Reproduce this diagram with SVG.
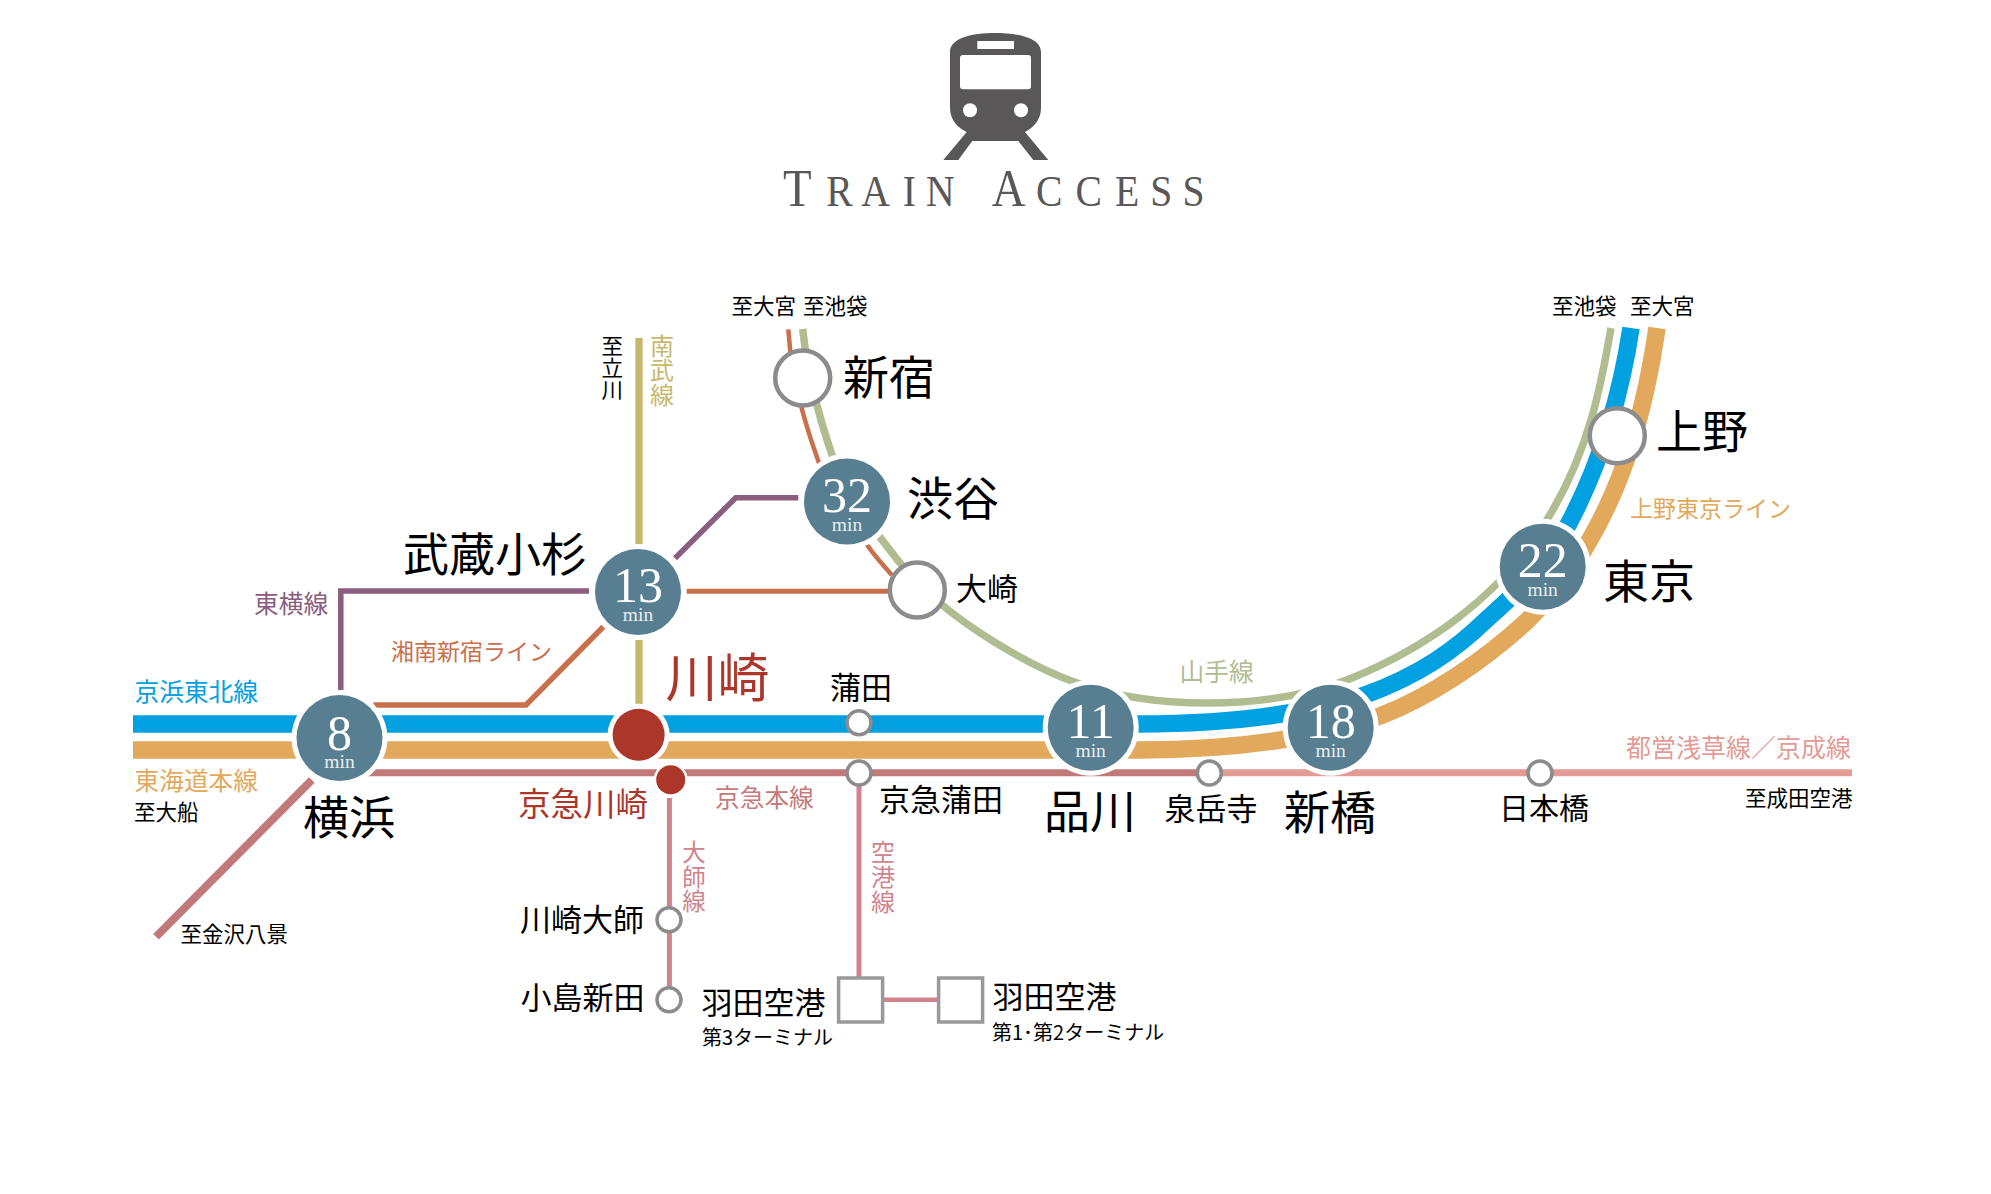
<svg xmlns="http://www.w3.org/2000/svg" width="1991" height="1194" viewBox="0 0 1991 1194">
<defs><style>
text{font-family:"Noto Sans CJK JP","Liberation Sans",sans-serif}
.n{fill:#000;text-anchor:middle}
.big{font-size:46px}
.mid{font-size:31px}
.to{font-size:21.500px;fill:#000}
.lb{font-size:24.700px}
.num{font-family:"Liberation Serif",serif;font-size:50px;fill:#fff;text-anchor:middle}
.min{font-family:"Liberation Serif",serif;font-size:19.500px;fill:#e8eef1;text-anchor:middle}
.halo{fill:#fff}
.time{fill:#587f91}
.open{fill:#fff;stroke:#8c8c8c;stroke-width:4.500}
.small{fill:#fff;stroke:#8c8c8c;stroke-width:3.500}
.sq{fill:#fff;stroke:#999;stroke-width:3.500}
.l{fill:none}
</style></defs>
<rect width="1991" height="1194" fill="#fff"/>
<g id="title">
<path fill="#595757" d="M950 52C950 38 972 33 995 33C1018 33 1041 38 1041 52V108C1041 120 1033 128 1025 132L1048.300 160H1033.300L1018.300 141H972.300L958.300 160H943.300L966.700 132C958 128 950 120 950 108Z"/>
<rect x="977.300" y="41" width="36.700" height="8" fill="#fff"/>
<rect x="960" y="55" width="71" height="34.300" rx="3" fill="#fff"/>
<circle cx="970" cy="110.300" r="7" fill="#fff"/>
<circle cx="1021" cy="110.300" r="7" fill="#fff"/>
<text y="206.500" fill="#595757" transform="translate(783 0) scale(.9 1)" style="font-family:'Liberation Serif',serif"><tspan x="0" font-size="52">T</tspan><tspan x="48" font-size="44">R</tspan><tspan x="87" font-size="44">A</tspan><tspan x="133" font-size="44">I</tspan><tspan x="159" font-size="44">N</tspan><tspan x="232" font-size="52">A</tspan><tspan x="281" font-size="44">C</tspan><tspan x="325" font-size="44">C</tspan><tspan x="369" font-size="44">E</tspan><tspan x="408" font-size="44">S</tspan><tspan x="444" font-size="44">S</tspan></text>
</g>
<g id="connectors" class="l">
<path id="nambu" d="M639 338V704" stroke="#c8b76d" stroke-width="7.300"/>
<path id="toyoko1" d="M340.800 690V591H589" stroke="#8b5d7e" stroke-width="5.500"/>
<path id="toyoko2" d="M675 558.300L735.700 497.700H798.300" stroke="#8b5d7e" stroke-width="5.500"/>
<path id="shonan1" d="M373.400 705H526L603.300 626.700" stroke="#c96f4b" stroke-width="5.500"/>
<path id="shonan2" d="M686.700 591.300H888.300" stroke="#c96f4b" stroke-width="5"/>
<path id="shonan3" d="M788.300 329.300C790 355 795 385 801.700 408.300C807 428 813 446 818.300 461C830 495 850 522 868.300 546.700C877 559 885 567 891.700 575" stroke="#c96f4b" stroke-width="4.500"/>
<path id="yamanote" d="M802.700 329C806 360 815 405 832 455C850 500 870 525 900 563C950 625 1040 670 1077 683C1120 698 1165 703 1207 703C1260 703 1310 695 1352 678C1420 650 1500 600 1548 518C1590 450 1602 380 1611 328" stroke="#b0bd91" stroke-width="7.500"/>
<path id="keihin" d="M133 724H1140C1230 724 1305 714 1365 695C1420 675 1455 650 1486 620C1520 590 1550 560 1568 525C1600 465 1620 400 1631 328" stroke="#00a0e1" stroke-width="17.500"/>
<path id="tokaido" d="M133 750H1140C1230 750 1310 740 1380 716C1430 697 1485 660 1528 620C1550 598 1570 575 1588 543C1625 480 1645 410 1657 328" stroke="#e2a95c" stroke-width="17.500"/>
<path id="keikyu" d="M341 772.700H1209" stroke="#c17a79" stroke-width="7"/>
<path id="asakusa" d="M1209 772.700H1852" stroke="#e39b95" stroke-width="7"/>
<path id="hakkei" d="M311.800 780L156 936.700" stroke="#c17a79" stroke-width="8"/>
<path id="daishi" d="M669.400 798V1000" stroke="#d0838c" stroke-width="5"/>
<path id="airport" d="M859 773V978" stroke="#d0838c" stroke-width="5"/>
<path id="haneda-link" d="M882 999.700H939" stroke="#d0838c" stroke-width="4.500"/>
</g>
<g id="yokohama"><circle class="halo" cx="339.500" cy="738" r="48"/><circle class="time" cx="339.500" cy="738" r="43"/><text class="num" x="339.500" y="750">8</text><text class="min" x="339.500" y="768">min</text><text class="n big" x="349" y="834">横浜</text></g>
<g id="musashikosugi"><circle class="halo" cx="638" cy="592" r="48"/><circle class="time" cx="638" cy="592" r="43"/><text class="num" x="638" y="602">13</text><text class="min" x="638" y="621">min</text><text class="n big" x="495" y="571">武蔵小杉</text></g>
<g id="shibuya"><circle class="halo" cx="847" cy="501.500" r="48"/><circle class="time" cx="847" cy="501.500" r="43"/><text class="num" x="847" y="512">32</text><text class="min" x="847" y="531">min</text><text class="n big" x="953" y="515">渋谷</text></g>
<g id="shinjuku"><circle class="open" cx="802.700" cy="378" r="27.500"/><text class="n big" x="889" y="394">新宿</text></g>
<g id="osaki"><circle class="open" cx="917.300" cy="590" r="27.500"/><text class="n mid" x="987" y="600">大崎</text></g>
<g id="ueno"><circle class="open" cx="1617.300" cy="435.700" r="27.500"/><text class="n big" x="1702" y="448">上野</text></g>
<g id="tokyo"><circle class="halo" cx="1542.700" cy="566.700" r="48"/><circle class="time" cx="1542.700" cy="566.700" r="43"/><text class="num" x="1542.700" y="577">22</text><text class="min" x="1542.700" y="596">min</text><text class="n big" x="1649" y="598">東京</text></g>
<g id="shinagawa"><circle class="halo" cx="1090.700" cy="727.700" r="48"/><circle class="time" cx="1090.700" cy="727.700" r="43"/><text class="num" x="1090.700" y="738">11</text><text class="min" x="1090.700" y="757">min</text><text class="n big" x="1090" y="828">品川</text></g>
<g id="shimbashi"><circle class="halo" cx="1330.700" cy="727.700" r="48"/><circle class="time" cx="1330.700" cy="727.700" r="43"/><text class="num" x="1330.700" y="738">18</text><text class="min" x="1330.700" y="757">min</text><text class="n big" x="1330" y="829">新橋</text></g>
<g id="kawasaki"><circle class="halo" cx="638.600" cy="734.700" r="31"/><circle cx="638.600" cy="734.700" r="26" fill="#ab3629"/><text class="n" font-size="52" x="717.500" y="697" style="fill:#ab3629">川崎</text></g>
<g id="keikyukawasaki"><circle class="halo" cx="670.700" cy="779.700" r="17"/><circle cx="670.700" cy="779.700" r="14.500" fill="#ab3629"/><text class="n" font-size="32.500" x="583" y="816" style="fill:#ab3629">京急川崎</text></g>
<g id="kamata"><circle class="small" cx="859" cy="722.700" r="12"/><text class="n mid" x="861" y="699">蒲田</text></g>
<g id="keikyukamata"><circle class="small" cx="859" cy="773" r="12"/><text class="n mid" x="941" y="811">京急蒲田</text></g>
<g id="sengakuji"><circle class="small" cx="1209.300" cy="773" r="12"/><text class="n mid" x="1211" y="820">泉岳寺</text></g>
<g id="nihombashi"><circle class="small" cx="1540" cy="773" r="12"/><text class="n" font-size="30" x="1544" y="819">日本橋</text></g>
<g id="kawasakidaishi"><circle class="small" cx="669" cy="919.700" r="12"/><text class="n mid" x="582" y="931">川崎大師</text></g>
<g id="kojimashinden"><circle class="small" cx="669" cy="999.700" r="12"/><text class="n mid" x="582.500" y="1009">小島新田</text></g>
<g id="haneda3"><rect class="sq" x="838.600" y="978" width="44" height="44"/><text class="n mid" x="763.500" y="1014">羽田空港</text><text font-size="20" x="702" y="1045">第3ターミナル</text></g>
<g id="haneda12"><rect class="sq" x="938.600" y="978" width="44" height="44"/><text class="n mid" x="1054.500" y="1007.500">羽田空港</text><text font-size="20" x="992" y="1040">第1･第2ターミナル</text></g>
<g id="line-labels">
<text class="lb" x="134.500" y="701" fill="#00a0e1">京浜東北線</text>
<text class="lb" x="134.500" y="790" fill="#e2a95c">東海道本線</text>
<text class="lb" x="254" y="613" fill="#8b5d7e">東横線</text>
<text font-size="23" x="391" y="659.500" fill="#c96f4b">湘南新宿ライン</text>
<text class="lb" x="715" y="807" fill="#c77a7a">京急本線</text>
<text font-size="23" x="1630" y="516.500" fill="#e2a95c">上野東京ライン</text>
<text font-size="24.700" x="1179.500" y="680.700" fill="#b0bd91">山手線</text>
<text font-size="25" x="1626" y="757" fill="#e39b95">都営浅草線／京成線</text>
<text font-size="24" text-anchor="middle" x="662 662 662" y="355 379 404" fill="#c8b76d">南武線</text>
<text font-size="23.500" text-anchor="middle" x="694 694 694" y="861 886 910" fill="#d0838c">大師線</text>
<text font-size="24" text-anchor="middle" x="883 883 883" y="861 886 911" fill="#d0838c">空港線</text>
<text class="to" text-anchor="middle" x="612.300 612.300 612.300" y="354 376 398">至立川</text>
<text class="to" font-size="22" x="134" y="820">至大船</text>
<text class="to" x="180.500" y="942">至金沢八景</text>
<text class="to" x="731.500" y="313.500">至大宮</text>
<text class="to" x="803" y="313.500">至池袋</text>
<text class="to" x="1552" y="313.500">至池袋</text>
<text class="to" x="1630" y="313.500">至大宮</text>
<text class="to" x="1745" y="805.500">至成田空港</text>
</g>
</svg>
